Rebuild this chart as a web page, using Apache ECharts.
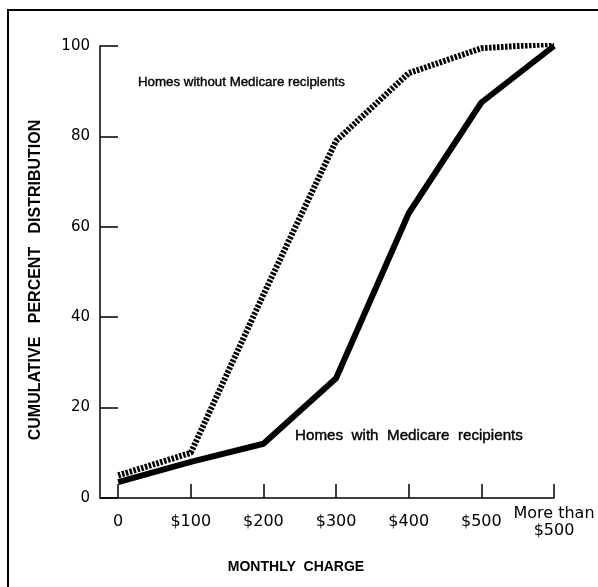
<!DOCTYPE html>
<html>
<head>
<meta charset="utf-8">
<script src="https://cdn.jsdelivr.net/npm/echarts@6/dist/echarts.min.js"></script>
<style>
  html, body { margin: 0; padding: 0; background: #fff; }
  #chart { width: 598px; height: 587px; }
</style>
</head>
<body>
<div id="chart"></div>
<script>
// 月费区间（x 轴位置 0..6）
var chargeLabels = ["0", "$100", "$200", "$300", "$400", "$500", "More than\n$500"];
var chargePos = [0, 1, 2, 3, 4, 5, 6];

// 累计百分比
var withoutMedicare = [5, 10, 45, 79, 94, 99.5, 100.5];
var withMedicare = [3.5, 8, 12, 26.5, 63, 87.5, 100];

var yTicks = [0, 20, 40, 60, 80, 100];

function pairs(vals) {
  var out = [];
  for (var i = 0; i < vals.length; i++) out.push([chargePos[i], vals[i]]);
  return out;
}

var chart = echarts.init(document.getElementById("chart"));
var font = "DejaVu Sans";

chart.setOption({
  animation: false,
  backgroundColor: "#fff",
  grid: { left: 100, right: 44, top: 46, bottom: 89 },
  xAxis: {
    type: "value",
    min: -0.25,
    max: 6,
    splitLine: { show: false },
    axisLine: { show: true, onZero: false, lineStyle: { color: "#000", width: 1.5 } },
    axisTick: {
      show: true, inside: true, length: 14,
      customValues: chargePos,
      lineStyle: { color: "#000", width: 1.5 }
    },
    axisLabel: {
      customValues: chargePos,
      formatter: function (v) { return chargeLabels[Math.round(v)]; },
      color: "#000",
      fontFamily: font,
      fontSize: 16,
      lineHeight: 17,
      align: "center",
      verticalAlign: "middle",
      margin: 24
    }
  },
  yAxis: {
    type: "value",
    min: 0,
    max: 100,
    interval: 20,
    splitLine: { show: false },
    axisLine: { show: true, onZero: false, lineStyle: { color: "#000", width: 1.5 } },
    axisTick: { show: true, inside: true, length: 18, lineStyle: { color: "#000", width: 1.5 } },
    axisLabel: {
      color: "#000",
      fontFamily: font,
      fontSize: 15,
      margin: 10,
      formatter: function (v) { return yTicks.indexOf(v) >= 0 ? String(v) : ""; }
    }
  },
  series: [
    {
      name: "Homes without Medicare recipients",
      type: "line",
      data: pairs(withoutMedicare),
      showSymbol: false,
      lineStyle: { color: "#000", width: 6, type: [2.5, 1.5], cap: "butt" }
    },
    {
      name: "Homes with Medicare recipients",
      type: "line",
      data: pairs(withMedicare),
      showSymbol: false,
      lineStyle: { color: "#000", width: 6 }
    }
  ],
  graphic: [
    // 外框（只露出左边和上边）
    {
      type: "rect",
      shape: { x: 8, y: 10, width: 700, height: 700 },
      style: { fill: "none", stroke: "#000", lineWidth: 2 },
      silent: true
    },
    {
      type: "text",
      x: 36, y: 280,
      rotation: Math.PI / 2,
      style: {
        text: "CUMULATIVE   PERCENT   DISTRIBUTION",
        font: "bold 16px 'Liberation Sans'",
        fill: "#000",
        align: "center",
        verticalAlign: "middle"
      }
    },
    {
      type: "text",
      x: 296, y: 567,
      style: {
        text: "MONTHLY  CHARGE",
        font: "bold 14px 'Liberation Sans'",
        fill: "#000",
        align: "center",
        verticalAlign: "middle"
      }
    },
    {
      type: "text",
      x: 138, y: 82,
      style: {
        text: "Homes without Medicare recipients",
        font: "13.3px 'Liberation Sans'",
        fill: "#000",
        stroke: "#000",
        lineWidth: 0.4,
        align: "left",
        verticalAlign: "middle"
      }
    },
    {
      type: "text",
      x: 295, y: 436,
      style: {
        text: "Homes  with  Medicare  recipients",
        font: "15.2px 'Liberation Sans'",
        fill: "#000",
        stroke: "#000",
        lineWidth: 0.4,
        align: "left",
        verticalAlign: "middle"
      }
    }
  ]
});
</script>
</body>
</html>
